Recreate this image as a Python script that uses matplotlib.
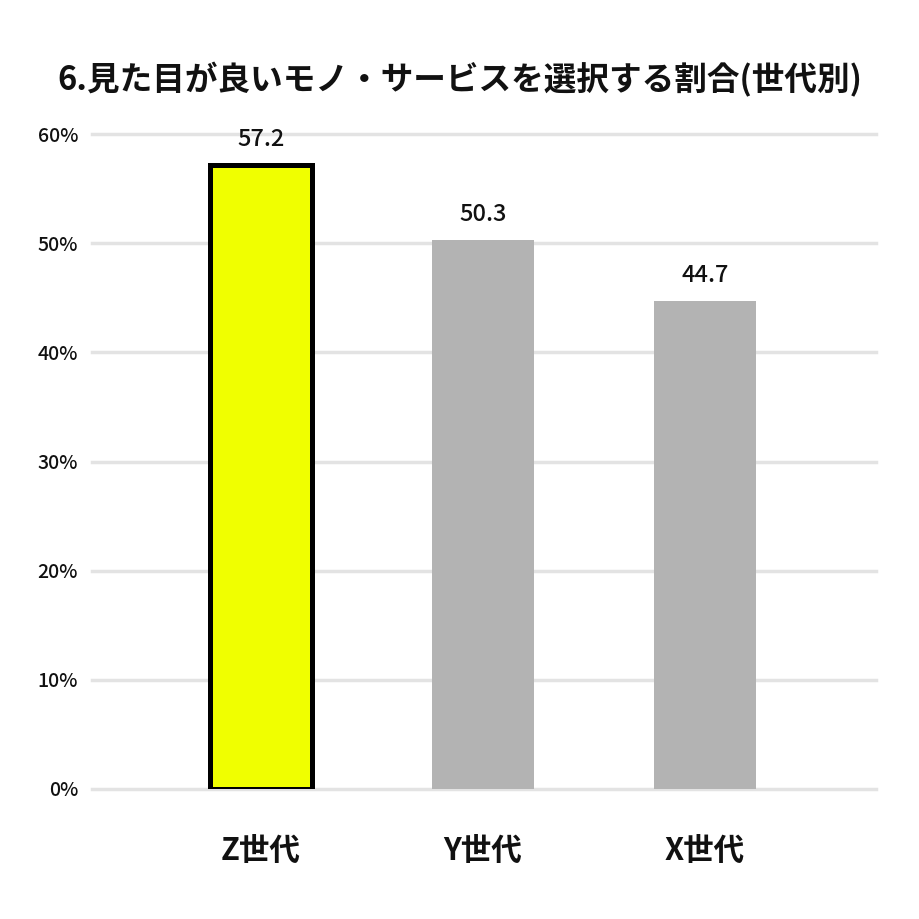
import matplotlib
matplotlib.use("Agg")
import matplotlib.pyplot as plt

plt.rcParams['font.family'] = ['Noto Sans CJK JP', 'DejaVu Sans']

categories = ["Z世代", "Y世代", "X世代"]
values = [57.2, 50.3, 44.7]
labels = ["57.2", "50.3", "44.7"]
yticks = [0, 10, 20, 30, 40, 50, 60]
ytick_labels = ["0%", "10%", "20%", "30%", "40%", "50%", "60%"]
title = "6.見た目が良いモノ・サービスを選択する割合(世代別)"

colors = ["#f0ff00", "#b3b3b3", "#b3b3b3"]
edges = ["#000000", "none", "none"]
lws = [3.6, 0, 0]

fig = plt.figure(figsize=(9.19, 9.19), dpi=100)
ax = fig.add_axes([92/919, 1-789/919, (876-92)/919, (789-134)/919])

x = list(range(len(categories)))
ax.bar(x, values, width=0.46, color=colors, edgecolor=edges, linewidth=lws, zorder=3)
for xi, v, lab in zip(x, values, labels):
    ax.annotate(lab, (xi, v), xytext=(0, 10), textcoords="offset points",
                ha="center", va="bottom", fontsize=17, fontweight="medium",
                color="#111111")

ax.set_ylim(0, 60)
ax.set_xlim(-0.76, 2.77)
ax.set_yticks(yticks)
ax.set_yticklabels(ytick_labels, fontsize=14, fontweight="medium", color="#111111")
ax.set_xticks(x)
ax.set_xticklabels(categories, fontsize=22, fontweight="bold", color="#111111")
ax.tick_params(axis="y", length=0, pad=10)
ax.tick_params(axis="x", length=0, pad=33)
ax.grid(axis="y", color="#e3e3e3", linewidth=2.5, zorder=0)
for gl in ax.get_ygridlines():
    gl.set_clip_on(False)
ax.set_axisbelow(True)
for s in ax.spines.values():
    s.set_visible(False)

fig.text(0.5, 1-80/919, title, ha="center", va="center", fontsize=23.5,
         fontweight="bold", color="#111111")

fig.savefig("out.png", dpi=100, facecolor="white")
